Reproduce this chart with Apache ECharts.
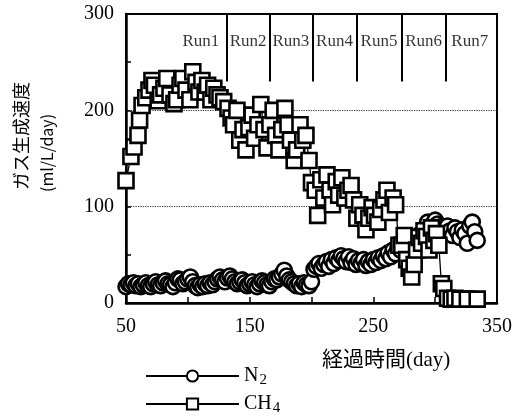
<!DOCTYPE html>
<html><head><meta charset="utf-8">
<script src="https://cdn.jsdelivr.net/npm/echarts@6/dist/echarts.min.js"></script>
<style>html,body{margin:0;padding:0;background:#fff}#c{width:517px;height:420px}</style>
</head><body><div id="c"></div>
<script>
const ch4Days = [50,54,56.5,59.7,61,63,66,68.6,71,73,76,78,80.7,83,85.6,88.8,91,93.7,96,98.5,101.7,104,106.6,109,111.4,114,116,118.7,121,123.6,126,129,132.5,135,137,139.7,142,144.6,147,149.4,152,154,156.7,159,161.6,164,166.4,169,171,173.7,176,178.5,181,183,186,188,190.7,193,195.5,198,200,203,205,207.6,210,212.5,215,217,220,222,224.6,227,229.5,232,234,236.7,239,241.6,244,246.4,249,251,253.7,256,258.6,261,263,266,268,270.7,273,275,277,279,281,283,285,287,289,291,293,295,297,299,301,303,305,307,310,313,316,320,326,334];
const ch4Vals = [127,152,162,174,190,205,213,221,231,226,210,216,223,233,216,207,211,226,233,221,211,240,229,219,231,219,226,211,223,216,213,209,202,192,185,200,169,180,159,182,195,171,185,206,180,161,185,200,174,159,180,202,185,169,148,159,185,169,174,148,125,117,91,128,109,133,117,102,126,112,130,109,117,122,107,88,102,91,76,88,99,91,84,97,107,117,94,109,102,60,60,70,45,36,27,40,55,68,62,75,69,55,78,65,72,60,20,15,5,4,5,4,4,4];
const n2Days = [50,52,54,56,58,60,62,64,66,68,70,72,74,76,78,80,82,84,86,88,90,92,94,96,98,100,102,104,106,108,110,112,114,116,118,120,122,124,126,128,130,132,134,136,138,140,142,144,146,148,150,152,154,156,158,160,162,164,166,168,170,172,174,176,178,180,182,184,186,188,190,192,194,196,198,200,202,204,206,208,210,212,214,216,218,220,222,224,226,228,230,232,234,236,238,240,242,244,246,248,250,252,254,256,258,260,262,264,266,268,270,272,274,276,278,280,282,284,286,288,290,292,294,296,298,300,302,304,306,308,310,312,314,316,318,320,322,324,326,328,330,332,334];
const n2Vals = [17,20,19,21,18,20,17,19,21,18,17,20,22,19,18,21,23,20,19,17,21,25,24,20,22,25,27,22,18,16,19,17,20,18,21,19,22,25,27,24,22,26,28,25,22,20,22,24,21,18,20,22,19,17,20,23,21,19,18,22,25,24,27,30,34,28,24,22,20,18,20,17,21,19,18,22,35,38,41,36,40,43,38,45,41,47,44,49,46,43,48,42,46,40,44,41,45,39,43,40,45,42,47,44,49,46,52,48,55,51,58,55,60,57,62,58,65,60,70,66,74,78,84,80,75,86,82,79,72,76,80,75,70,78,74,68,76,72,62,80,84,74,65];
const runBounds = [131.6,165.9,200.8,236.4,272.9,308.6];
const runNames = ['Run1','Run2','Run3','Run4','Run5','Run6','Run7'];
const runCenters = [110.6,148.7,183.3,218.6,254.6,290.7,328];
const runLineRange = [230,300];
const runLabelY = 271;
const xTicks = [50,150,250,350];
const yTicks = [0,100,200,300];

const chart = echarts.init(document.getElementById('c'), null, {renderer:'canvas'});
const serif = '"Liberation Serif","Times New Roman",serif';
const zip = (a,b)=>a.map((d,i)=>[d,b[i]]);
const gridOn = [100,200];
const yLineColors = [];
for (let v=0; v<=300; v+=50) yLineColors.push(gridOn.includes(v)?'#333':'rgba(0,0,0,0)');
const legendText = {fontFamily:serif,fontSize:20,color:'#000',rich:{s:{fontFamily:serif,fontSize:15,color:'#000',padding:[9,0,0,1]}}};
const legendFmt = n=>n==='N2'?'N{s|2}':'CH{s|4}';

chart.setOption({
  animation:false,
  grid:{left:126,right:20,top:14,bottom:117,show:true,borderColor:'#000',borderWidth:2},
  xAxis:{type:'value',min:50,max:350,interval:50,
    axisLine:{lineStyle:{color:'#000',width:2.5}},
    axisTick:{inside:true,length:6,lineStyle:{color:'#000',width:1.5}},
    axisLabel:{margin:14,color:'#000',fontFamily:serif,fontSize:20,
      formatter:v=>xTicks.includes(v)?String(v):''},
    splitLine:{show:false}},
  yAxis:{type:'value',min:0,max:300,interval:50,
    axisLine:{show:true,lineStyle:{color:'#000',width:2.5}},
    axisTick:{show:true,inside:true,length:5,lineStyle:{color:'#000',width:1.5}},
    axisLabel:{margin:12,color:'#000',fontFamily:serif,fontSize:20,
      formatter:v=>yTicks.includes(v)?String(v):''},
    splitLine:{show:true,lineStyle:{color:yLineColors,type:'dotted',width:1.2}}},
  legend:[
    {data:['N2'],left:140,top:361,itemWidth:93,itemHeight:14,textStyle:legendText,formatter:legendFmt},
    {data:['CH4'],left:140,top:389,itemWidth:93,itemHeight:14,textStyle:legendText,formatter:legendFmt}
  ],
  graphic:[
    {type:'text',x:21,y:190,rotation:Math.PI/2,style:{text:'ガス生成速度',font:'18px "Noto Sans CJK JP"',fill:'#000',textAlign:'left',textVerticalAlign:'middle'}},
    {type:'text',x:47,y:192,rotation:Math.PI/2,style:{text:'(ml/L/day)',font:'16px "Noto Sans CJK JP"',fill:'#000',textAlign:'left',textVerticalAlign:'middle'}},
    {type:'text',x:322,y:360,style:{text:'経過時間(day)',font:'21px "Liberation Serif","Noto Sans CJK JP"',fill:'#000',textAlign:'left',textVerticalAlign:'middle'}}
  ],
  series:[
    {name:'runs',type:'scatter',symbolSize:0,silent:true,
      data:runCenters.map((d,i)=>[d,runLabelY,runNames[i]]),
      label:{show:true,position:'inside',formatter:p=>p.data[2],color:'#000',fontFamily:serif,fontSize:17},
      markLine:{silent:true,symbol:'none',label:{show:false},lineStyle:{color:'#000',width:2,type:'solid'},
        data:runBounds.map(b=>[{coord:[b,runLineRange[0]]},{coord:[b,runLineRange[1]]}])}},
    {name:'N2',type:'line',data:zip(n2Days,n2Vals),symbol:'circle',symbolSize:15,
      lineStyle:{color:'#000',width:1.3},itemStyle:{color:'#fff',borderColor:'#000',borderWidth:2.6}},
    {name:'CH4',type:'line',data:zip(ch4Days,ch4Vals),symbol:'rect',symbolSize:15,
      lineStyle:{color:'#000',width:1.3},itemStyle:{color:'#fff',borderColor:'#000',borderWidth:2.6}}
  ]
});
</script></body></html>
